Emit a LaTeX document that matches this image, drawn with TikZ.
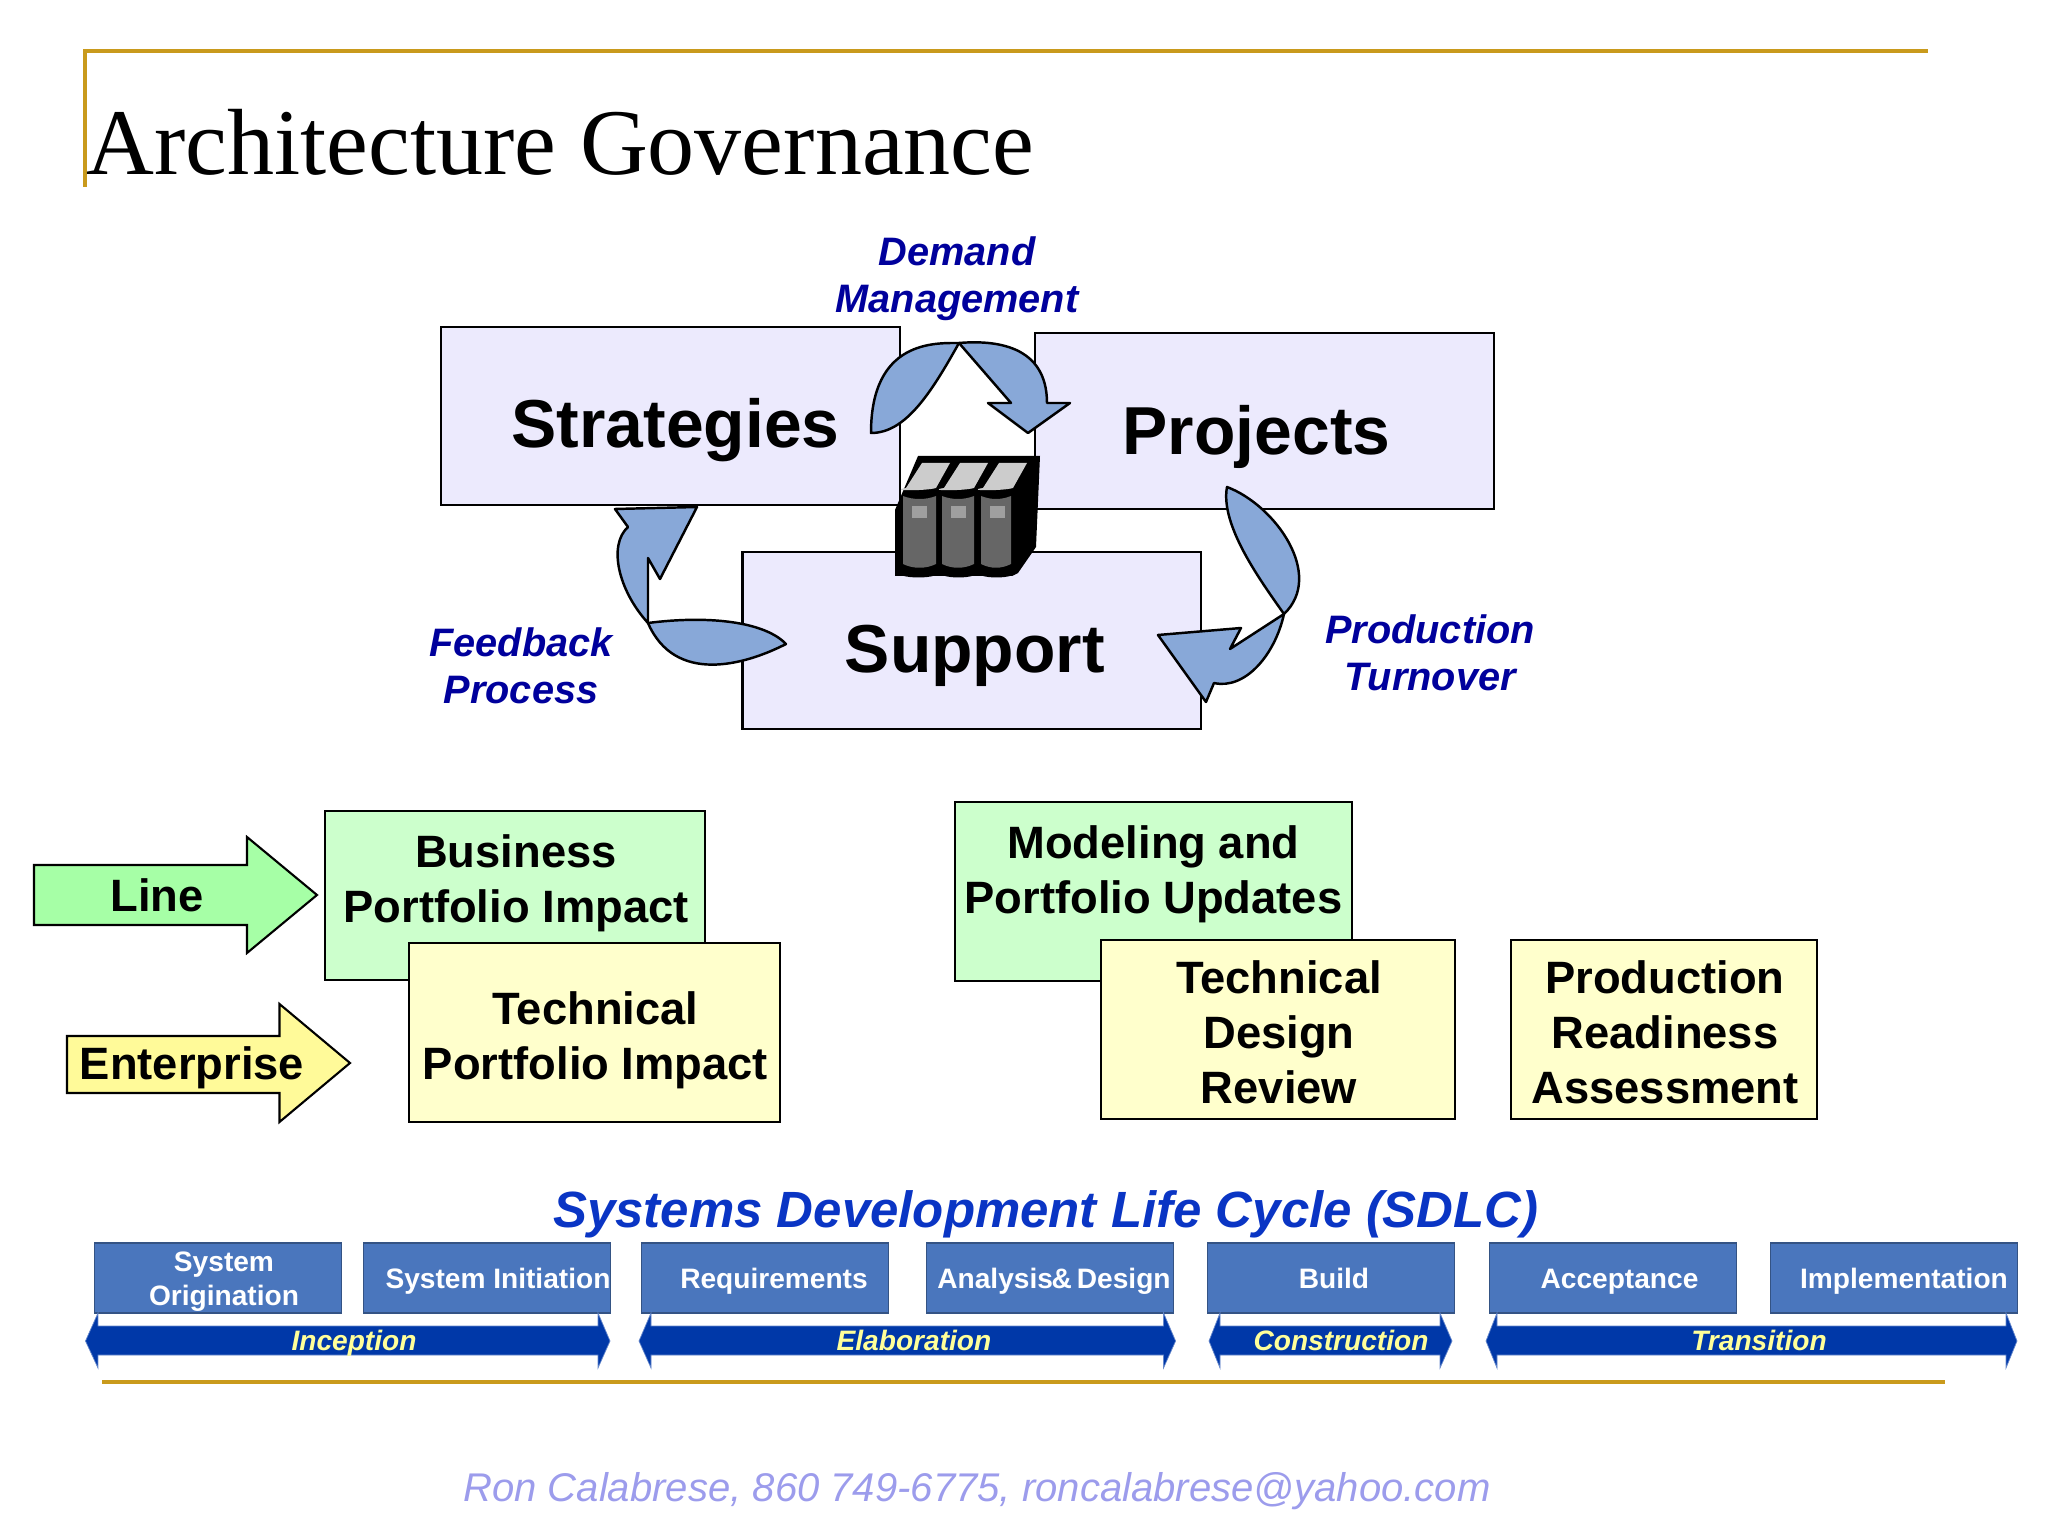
\documentclass[tikz,border=0pt]{standalone}
\usepackage{fontspec}
\setmainfont{Liberation Sans}
\newfontfamily\titlefont{Liberation Serif}
\usetikzlibrary{positioning}

\definecolor{goldline}{HTML}{C99A1C}
\definecolor{panelfill}{HTML}{ECEAFD}
\definecolor{bladefill}{HTML}{88A8D8}
\definecolor{labelblue}{HTML}{00009C}
\definecolor{sdlcblue}{HTML}{0A35C4}
\definecolor{stagefill}{HTML}{4A76BD}
\definecolor{phasefill}{HTML}{0038A8}
\definecolor{phasetext}{HTML}{FFFF99}
\definecolor{greenfill}{HTML}{CCFFCC}
\definecolor{yellowfill}{HTML}{FFFFCC}
\definecolor{footerblue}{HTML}{9C9CEC}

\begin{document}
\begin{tikzpicture}[
    panel/.style={rectangle, draw, line width=0.6pt, fill=panelfill, inner sep=0pt},
    bigword/.style={font=\fontsize{19.3}{23}\selectfont\bfseries},
    looplabel/.style={font=\fontsize{11.3}{13.5}\selectfont\bfseries\itshape, text=labelblue, align=center, inner sep=0pt},
    blade/.style={draw, line width=0.7pt, fill=bladefill, line join=round},
    card/.style={rectangle, draw, line width=0.6pt, inner sep=0pt, align=center, font=\fontsize{12.9}{15.6}\selectfont\bfseries},
    greencard/.style={card, fill=greenfill},
    yellowcard/.style={card, fill=yellowfill},
    cardword/.style={align=center, inner sep=0pt, font=\fontsize{12.9}{15.6}\selectfont\bfseries},
    tag/.style={font=\fontsize{12.9}{15.6}\selectfont\bfseries, inner sep=0pt},
    stagebox/.style={rectangle, draw=stagefill!70!black, line width=0.3pt, fill=stagefill, text=white, inner sep=0pt, minimum width=2.47cm, minimum height=0.7cm, align=center, font=\fontsize{8}{9.7}\selectfont\bfseries},
    stageone/.style={stagebox, text height=2mm, text depth=0pt},
    phase/.style={font=\fontsize{8}{9.7}\selectfont\bfseries\itshape, text=phasetext, inner sep=0pt, text height=2mm, text depth=0pt},
    phasearrow/.style={fill=phasefill, draw=phasefill!60!white, line width=0.2pt},
    gold/.style={draw=goldline, line width=1.1pt}
]
\useasboundingbox (0,0) rectangle (20.48,-15.36);

% Frame and title
\draw[gold] (0.85,-1.87) -- (0.85,-0.51) -- (19.28,-0.51);
\node[font=\titlefont\fontsize{26.75}{32}\selectfont, inner sep=0pt, anchor=base west] (title) at (0.86,-1.75) {Architecture Governance};

% Top boxes
\node[panel, minimum width=4.59cm, minimum height=1.78cm, label={[bigword, xshift=0.05cm, yshift=-0.145cm]center:Strategies}] (strategies) at (6.705,-4.16) {};
\node[panel, minimum width=4.59cm, minimum height=1.76cm, label={[bigword, xshift=-0.08cm, yshift=-0.155cm]center:Projects}] (projects) at (12.645,-4.21) {};
\node[panel, minimum width=4.585cm, minimum height=1.77cm, label={[bigword, xshift=0.03cm, yshift=-0.155cm]center:Support}] (support) at (9.718,-6.405) {};

% Demand arrows
\draw[blade] (9.59,-3.43) .. controls (9.35,-3.43) and (8.71,-3.40) .. (8.71,-4.33) .. controls (9.05,-4.33) and (9.30,-3.95) .. (9.59,-3.43) -- cycle;
\draw[blade] (9.59,-3.43) .. controls (9.95,-3.40) and (10.47,-3.45) .. (10.47,-4.03) -- (10.70,-4.03) -- (10.28,-4.33) -- (9.88,-4.03) -- (10.11,-4.03) -- cycle;

% Feedback arrows
\draw[blade] (6.97,-5.07) -- (6.15,-5.09) -- (6.28,-5.27) .. controls (6.08,-5.45) and (6.18,-5.90) .. (6.48,-6.23) -- (6.48,-5.58) -- (6.60,-5.79) -- cycle;
\draw[blade] (6.48,-6.23) .. controls (7.10,-6.15) and (7.65,-6.22) .. (7.86,-6.44) .. controls (7.45,-6.65) and (6.75,-6.85) .. (6.48,-6.23) -- cycle;

% Turnover arrows
\draw[blade] (12.27,-4.87) .. controls (12.75,-5.05) and (13.25,-5.75) .. (12.84,-6.14) .. controls (12.60,-5.80) and (12.20,-5.25) .. (12.27,-4.87) -- cycle;
\draw[blade] (12.84,-6.14) -- (12.30,-6.49) -- (12.41,-6.28) -- (11.58,-6.35) -- (12.06,-7.02) -- (12.14,-6.83) .. controls (12.45,-6.90) and (12.75,-6.55) .. (12.84,-6.14) -- cycle;

% Server
\fill (9.18,-4.56) -- (10.40,-4.56) -- (10.36,-5.47) -- (10.18,-5.73) -- (10.12,-5.76) -- (8.95,-5.76) -- (8.95,-5.10) -- cycle;
\foreach \xa/\xb in {8.95/9.42, 9.37/9.80, 9.75/10.18} {
  \fill (\xa,-5.70) .. controls (\xa,-5.80) and (\xb,-5.80) .. (\xb,-5.70) -- cycle;
}
\foreach \xa/\xb in {9.03/9.36, 9.42/9.74, 9.81/10.11} {
  \fill[gray!80!black] (\xa,-4.96) .. controls ({\xa+0.1},-5.0) and ({\xb-0.1},-5.0) .. (\xb,-4.96) -- (\xb,-5.64) .. controls ({\xb-0.1},-5.69) and ({\xa+0.1},-5.69) .. (\xa,-5.64) -- cycle;
  \fill[gray!75] ({\xa+0.09},-5.06) rectangle ({\xa+0.24},-5.18);
}
\foreach \xa in {9.22, 9.60, 9.99} {
  \fill[gray!40] (\xa,-4.63) -- ++(0.28,0) -- ++(-0.14,-0.25) .. controls ++(-0.1,-0.03) and ++(-0.2,-0.03) .. ++(-0.3,0) -- cycle;
}

% Line and Enterprise arrows
\draw[line width=0.6pt, fill=green!35!white] (0.34,-8.65) -- (2.47,-8.65) -- (2.47,-8.37) -- (3.17,-8.95) -- (2.47,-9.53) -- (2.47,-9.25) -- (0.34,-9.25) -- cycle;
\node[tag] (line) at (1.57,-8.95) {Line};
\draw[line width=0.6pt, fill=yellow!40!white] (0.67,-10.36) -- (2.795,-10.36) -- (2.795,-10.04) -- (3.50,-10.63) -- (2.795,-11.22) -- (2.795,-10.93) -- (0.67,-10.93) -- cycle;
\node[tag] (enterprise) at (1.92,-10.68) {Enterprise};

% Cards
\node[greencard, minimum width=3.80cm, minimum height=1.69cm, label={[cardword, xshift=0.01cm, yshift=0.12cm]center:{Business\\Portfolio Impact}}] (business) at (5.15,-8.955) {};
\node[yellowcard, minimum width=3.71cm, minimum height=1.79cm, label={[cardword, xshift=0.01cm, yshift=-0.08cm]center:{Technical\\Portfolio Impact}}] (techportfolio) at (5.945,-10.325) {};
\node[greencard, minimum width=3.97cm, minimum height=1.79cm, label={[cardword, yshift=0.17cm]center:{Modeling and\\Portfolio Updates}}] (modeling) at (11.535,-8.915) {};
\node[yellowcard, minimum width=3.54cm, minimum height=1.79cm, label={[cardword, xshift=0.01cm, yshift=-0.03cm]center:{Technical\\Design\\Review}}] (techdesign) at (12.78,-10.295) {};
\node[yellowcard, minimum width=3.06cm, minimum height=1.79cm, label={[cardword, xshift=0.01cm, yshift=-0.03cm]center:{Production\\Readiness\\Assessment}}] (readiness) at (16.64,-10.295) {};

% Loop labels
\node[looplabel] (demand) at (9.57,-2.79) {Demand\\Management};
\node[looplabel] (feedback) at (5.21,-6.66) {Feedback\\Process};
\node[looplabel] (turnover) at (14.30,-6.53) {Production\\Turnover};

% SDLC stages
\node[font=\fontsize{14.5}{17}\selectfont\bfseries\itshape, text=sdlcblue, inner sep=0pt] (sdlc) at (10.46,-12.14) {Systems Development Life Cycle (SDLC)};
\node[stagebox, label={[stagebox, draw=none, fill=none, minimum width=0pt, minimum height=0pt, xshift=0.06cm, yshift=-0.04cm]center:{System\\Origination}}] (origination) at (2.18,-12.78) {};
\node[stageone] (initiation) at (4.87,-12.78) {\hspace*{0.22cm}System Initiation};
\node[stageone] (requirements) at (7.65,-12.78) {\hspace*{0.18cm}Requirements};
\node[stageone] (analysis) at (10.50,-12.78) {\hspace*{0.08cm}Analysis\kern-0.4pt\&\kern-0.8pt\ Design};
\node[stageone] (build) at (13.31,-12.78) {\hspace*{0.06cm}Build};
\node[stageone] (acceptance) at (16.13,-12.78) {\hspace*{0.13cm}Acceptance};
\node[stageone] (implementation) at (18.94,-12.78) {\hspace*{0.2cm}Implementation};

% Phase arrows
\foreach \ta/\ba/\bb/\tb in {0.855/0.98/5.98/6.10, 6.39/6.51/11.635/11.756, 12.09/12.20/14.40/14.52, 14.86/14.97/20.06/20.17} {
  \filldraw[phasearrow] (\ta,-13.41) -- (\ba,-13.13) -- (\ba,-13.26) -- (\bb,-13.26) -- (\bb,-13.13) -- (\tb,-13.41) -- (\bb,-13.68) -- (\bb,-13.55) -- (\ba,-13.55) -- (\ba,-13.68) -- cycle;
}
\node[phase] (inception) at (3.54,-13.40) {Inception};
\node[phase] (elaboration) at (9.14,-13.40) {Elaboration};
\node[phase] (construction) at (13.41,-13.40) {Construction};
\node[phase] (transition) at (17.59,-13.40) {Transition};

% Footer
\draw[gold] (1.02,-13.82) -- (19.45,-13.82);
\node[font=\fontsize{11.4}{13}\selectfont\itshape, text=footerblue, inner sep=0pt] (contact) at (9.77,-14.91) {Ron Calabrese, 860 749-6775, roncalabrese@yahoo.com};

\end{tikzpicture}
\end{document}
